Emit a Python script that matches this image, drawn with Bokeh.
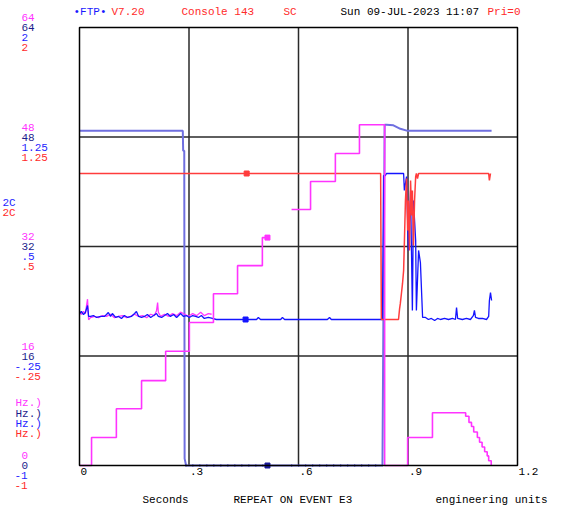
from bokeh.plotting import figure
from bokeh.models import Range1d, Label
from bokeh.embed import file_html
from bokeh.resources import INLINE

NAN = float("nan")

# ---------------- data ----------------
time_ticks = [0.0, 0.3, 0.6, 0.9, 1.2]
time_tick_labels = ["0", ".3", ".6", ".9", "1.2"]
hz_ticks = [0, 16, 32, 48, 64]
hz_tick_labels = ["0", "16", "32", "48", "64"]
eu_ticks = [-1.0, -0.25, 0.5, 1.25, 2.0]
eu_tick_labels = ["-1", "-.25", ".5", "1.25", "2"]
unit_labels = ["Hz.)", "Hz.)", "Hz.)", "Hz.)"]
temp_unit_labels = ["2C", "2C"]

# magenta staircase (0..64 scale), step after
stair_a_t = [0.000, 0.033, 0.101, 0.170, 0.236, 0.301, 0.367, 0.433, 0.501, 0.515]
stair_a_v = [0.0, 4.1, 8.3, 12.4, 16.7, 20.9, 25.1, 29.2, 33.3, 33.3]
stair_b_t = [0.581, 0.633, 0.701, 0.767, 0.836, 0.899, 0.967, 1.058, 1.067,
             1.074, 1.080, 1.090, 1.096, 1.103, 1.110, 1.117, 1.121, 1.128]
stair_b_v = [37.4, 41.5, 45.6, 49.8, 0.0, 4.1, 7.7, 7.2, 6.3,
             5.7, 4.9, 4.1, 3.4, 2.7, 2.0, 1.4, 0.7, 0.0]

# magenta noisy trace (0..64 scale)
mag_noise_t = [0.000, 0.005, 0.011, 0.016, 0.022, 0.025, 0.030, 0.041, 0.052, 0.063,
               0.074, 0.085, 0.096, 0.107, 0.118, 0.129, 0.140, 0.151, 0.162, 0.173,
               0.184, 0.195, 0.205, 0.211, 0.214, 0.216, 0.222, 0.233, 0.244, 0.255,
               0.266, 0.277, 0.288, 0.299, 0.310, 0.321, 0.332, 0.342, 0.353, 0.362]
mag_noise_v = [22.4, 22.1, 22.5, 22.2, 24.3, 21.3, 21.6, 21.8, 21.6, 21.9,
               21.8, 22.1, 21.6, 21.8, 21.9, 21.6, 21.8, 22.1, 21.8, 21.9,
               21.6, 22.1, 21.9, 22.6, 23.8, 22.4, 21.8, 22.1, 21.8, 22.2,
               21.9, 22.4, 22.1, 21.8, 22.2, 21.9, 22.4, 21.9, 22.2, 22.1]

# light blue trace (0..64 scale)
lblue_t = [0.000, 0.283, 0.284, 0.287, 0.288, 0.292, 0.830, 0.836, 0.841, 0.860, 0.879, 0.899, 1.129]
lblue_v = [48.9, 48.9, 46.0, 46.0, 1.0, 0.0, 0.0, 49.8, 49.8, 49.7, 49.2, 48.9, 48.9]

# navy dotted trace at zero (0..64 scale)
navy_t = [0.290, 0.515, NAN, 0.580, 0.830]
navy_v = [0.0, 0.0, NAN, 0.0, 0.0]

# blue trace (engineering units, -1..2)
blue_t = [0.000, 0.005, 0.011, 0.016, 0.022, 0.025, 0.030, 0.038, 0.047, 0.058, 0.068,
          0.074, 0.079, 0.085, 0.090, 0.099, 0.107, 0.115, 0.123, 0.132, 0.142, 0.151, 0.156, 0.162, 0.170,
          0.178, 0.186, 0.195, 0.203, 0.211, 0.216, 0.225, 0.233, 0.241, 0.249, 0.258, 0.266, 0.277, 0.285, 0.293, 0.301,
          0.310, 0.318, 0.326, 0.334, 0.342, 0.353, 0.364, 0.375,
          0.485, 0.490, 0.496, 0.551, 0.556, 0.562, 0.679, 0.685, 0.690, 0.830,
          0.833, 0.838, 0.841, 0.888, 0.890, 0.896, 0.901, 0.907, 0.912, 0.915, 0.921, 0.923, 0.929, 0.934, 0.940,
          0.948, 0.956, 0.964, 0.973, 0.981, 0.989, 1.000, 1.011, 1.022, 1.030, 1.033, 1.036, 1.049, 1.060, 1.071,
          1.079, 1.082, 1.085, 1.093, 1.104, 1.115, 1.121, 1.123, 1.126, 1.129]
blue_v = [0.041, 0.055, 0.034, 0.048, 0.096, 0.021, 0.021, 0.027, 0.014, 0.021, 0.021,
          0.034, 0.048, 0.021, 0.041, 0.014, 0.021, 0.007, 0.027, 0.014, 0.021, 0.041, 0.055, 0.021, 0.014,
          0.021, 0.034, 0.014, 0.027, 0.041, 0.021, 0.014, 0.027, 0.041, 0.021, 0.034, 0.014, 0.041, 0.021, 0.027, 0.014,
          0.027, 0.021, 0.014, 0.027, 0.007, 0.014, 0.007, 0.0,
          0.0, 0.014, 0.0, 0.0, 0.014, 0.0, 0.0, 0.014, 0.0, 0.0,
          0.986, 0.986, 1.0, 1.0, 0.884, 0.979, 0.473, 0.884, 0.062, 0.815, 0.541, 0.062, 0.473, 0.390, 0.014,
          0.014, 0.0, 0.007, -0.007, 0.007, 0.0, 0.007, 0.0, 0.007, 0.0, 0.082, 0.007, 0.0, 0.007, 0.0,
          0.027, 0.062, 0.014, 0.007, 0.007, 0.0, 0.021, 0.130, 0.185, 0.130]

# red trace (engineering units, -1..2)
red_t = [0.000, 0.825, 0.827, 0.874, 0.877, 0.879, 0.882, 0.885, 0.888, 0.890,
         0.893, 0.896, 0.899, 0.901, 0.904, 0.907, 0.910, 0.912, 0.915, 0.918,
         0.921, 0.923, 0.926, 0.929, 1.121, 1.123, 1.126]
red_v = [1.0, 1.0, 0.0, 0.0, 0.075, 0.110, 0.178, 0.247, 0.336, 0.521,
         0.815, 0.966, 0.610, 0.815, 0.473, 0.952, 0.712, 0.884, 0.507, 0.815,
         0.979, 1.0, 0.966, 1.0, 1.0, 0.952, 1.0]

# cursor markers
cursor_hz_t = [0.515, 0.515]
cursor_hz_v = [33.3, 0.0]
cursor_eu_t = [0.458, 0.455]
cursor_eu_v = [1.0, 0.0]

# ---------------- layout / styles ----------------
W, H = 554, 508
BOX_L, BOX_R, BOX_T, BOX_B = 79, 517, 27, 465   # plot box in canvas pixels
T0, T1 = time_ticks[0], time_ticks[-1]
H0, H1 = hz_ticks[0], hz_ticks[-1]
E0, E1 = eu_ticks[0], eu_ticks[-1]
tpp = (T1 - T0) / (BOX_R - BOX_L)
hpp = (H1 - H0) / (BOX_B - BOX_T)
epp = (E1 - E0) / (BOX_B - BOX_T)

MAG = "#ff33ff"
NAVY_TXT = "#1c1c8c"
BLUE_TXT = "#2424ff"
RED_TXT = "#ff2a2a"
LBLUE = "#6f6fe0"
BLUE = "#1414ff"
RED = "#ff3c3c"
NAVY = "#1a1a9a"
GRID = "#2a2a2a"
FONT = "Liberation Mono"
FS = "11px"

p = figure(width=W, height=H,
           x_range=Range1d(T0 - BOX_L * tpp, T1 + (W - BOX_R) * tpp),
           y_range=Range1d(H0 - (H - BOX_B) * hpp, H1 + BOX_T * hpp),
           x_axis_type=None, y_axis_type=None,
           output_backend="svg", toolbar_location=None,
           min_border=0, min_border_left=0, min_border_right=0,
           min_border_top=0, min_border_bottom=0)
p.extra_y_ranges = {"eu": Range1d(E0 - (H - BOX_B) * epp, E1 + BOX_T * epp)}
p.background_fill_color = "white"
p.border_fill_color = "white"
p.outline_line_color = None
p.xgrid.visible = False
p.ygrid.visible = False

# grid + box
inner_t = time_ticks[1:-1]
inner_h = hz_ticks[1:-1]
p.segment(x0=inner_t, y0=[H0] * len(inner_t), x1=inner_t, y1=[H1] * len(inner_t),
          line_color=GRID, line_width=1.5)
p.segment(x0=[T0] * len(inner_h), y0=inner_h, x1=[T1] * len(inner_h), y1=inner_h,
          line_color=GRID, line_width=1.5)

# traces
p.line(lblue_t, lblue_v, line_color=LBLUE, line_width=2)
p.line(navy_t, navy_v, line_color=NAVY, line_width=2, line_dash="1 6")
p.line(mag_noise_t, mag_noise_v, line_color=MAG, line_width=1.3)
p.line(blue_t, blue_v, line_color=BLUE, line_width=1.3, y_range_name="eu")
p.line(red_t, red_v, line_color=RED, line_width=1.5, y_range_name="eu")
p.step(stair_a_t, stair_a_v, mode="after", line_color=MAG, line_width=1.6)
p.step(stair_b_t, stair_b_v, mode="after", line_color=MAG, line_width=1.6)

p.scatter(cursor_hz_t[:1], cursor_hz_v[:1], marker="square", size=5, color=MAG)
p.scatter(cursor_hz_t[1:], cursor_hz_v[1:], marker="square", size=5, color=NAVY)
p.scatter(cursor_eu_t[:1], cursor_eu_v[:1], marker="square", size=5, color=RED, y_range_name="eu")
p.scatter(cursor_eu_t[1:], cursor_eu_v[1:], marker="square", size=5, color=BLUE, y_range_name="eu")

p.quad(left=[T0], right=[T1], bottom=[H0], top=[H1], fill_color=None,
       line_color="black", line_width=1.5)


def lab(text, x, y, xo, yo, color, yr="default"):
    p.add_layout(Label(x=x, y=y, x_offset=xo, y_offset=yo, text=text, text_color=color,
                       text_font=FONT, text_font_size=FS, text_baseline="middle",
                       text_align="left", y_range_name=yr))


# y tick label stacks
for v, s in zip(hz_ticks, hz_tick_labels):
    lab(s, T0, v, -58, 10, MAG)
    lab(s, T0, v, -58, 0, NAVY_TXT)
for v, s in zip(eu_ticks, eu_tick_labels):
    xo = -65 if s.startswith("-") else -58
    lab(s, T0, v, xo, -10, BLUE_TXT, "eu")
    lab(s, T0, v, xo, -20, RED_TXT, "eu")

# unit labels
for s, c, yo in zip(unit_labels, [MAG, NAVY_TXT, BLUE_TXT, RED_TXT], [63, 52, 42, 32]):
    lab(s, T0, H0, -64, yo, c)
for s, c, yo in zip(temp_unit_labels, [BLUE_TXT, RED_TXT], [263, 253]):
    lab(s, T0, H0, -77, yo, c)

# x tick labels
for t, s in zip(time_ticks, time_tick_labels):
    lab(s, t, H0, 1, -6, "black")

# header
lab("\u2022FTP\u2022", T0, H1, -6, 16, "#1a1aff")
lab("V7.20", T0, H1, 32, 16, RED_TXT)
lab("Console 143", T0, H1, 102, 16, RED_TXT)
lab("SC", T0, H1, 204, 16, RED_TXT)
lab("Sun 09-JUL-2023 11:07", T0, H1, 261, 16, "black")
lab("Pri=0", T0, H1, 408, 16, RED_TXT)

# footer
lab("Seconds", T0, H0, 63, -34, "black")
lab("REPEAT ON EVENT E3", T0, H0, 154, -34, "black")
lab("engineering units", T0, H0, 356, -34, "black")

open("out.html", "w").write(file_html(p, INLINE))
